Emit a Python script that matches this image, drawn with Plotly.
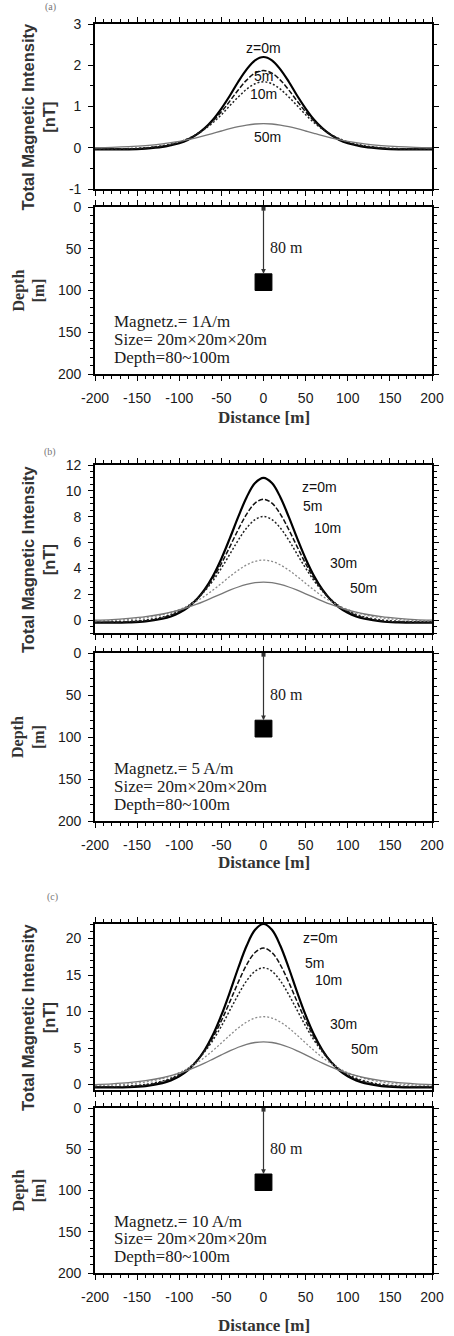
import plotly.graph_objects as go

# ---------------- data ----------------
distance = [-200, -180, -160, -140, -120, -110, -100, -90, -80, -70, -60, -50, -40, -30, -20, -10,
            0, 10, 20, 30, 40, 50, 60, 70, 80, 90, 100, 110, 120, 140, 160, 180, 200]

a_z0 = [-0.04,-0.04,-0.04,-0.02,0.02,0.06,0.11,0.19,0.31,0.47,0.68,0.95,1.26,1.60,1.90,2.12,2.20,2.12,1.90,1.60,1.26,0.95,0.68,0.47,0.31,0.19,0.11,0.06,0.02,-0.02,-0.04,-0.04,-0.04]
a_z5 = [-0.03,-0.03,-0.03,-0.01,0.035,0.07,0.13,0.21,0.32,0.46,0.65,0.87,1.13,1.40,1.64,1.81,1.87,1.81,1.64,1.40,1.13,0.87,0.65,0.46,0.32,0.21,0.13,0.07,0.035,-0.01,-0.03,-0.03,-0.03]
a_z10 = [-0.03,-0.03,-0.02,0.00,0.05,0.09,0.14,0.22,0.32,0.45,0.61,0.80,1.02,1.23,1.42,1.55,1.60,1.55,1.42,1.23,1.02,0.80,0.61,0.45,0.32,0.22,0.14,0.09,0.05,0.00,-0.02,-0.03,-0.03]
a_z50 = [0.00,0.009,0.025,0.052,0.093,0.122,0.155,0.195,0.241,0.293,0.349,0.406,0.461,0.511,0.551,0.576,0.585,0.576,0.551,0.511,0.461,0.406,0.349,0.293,0.241,0.195,0.155,0.122,0.093,0.052,0.025,0.009,0.00]

b_z0 = [-0.19,-0.20,-0.18,-0.11,0.10,0.28,0.56,0.97,1.55,2.35,3.41,4.75,6.32,7.98,9.51,10.60,11.0,10.60,9.51,7.98,6.32,4.75,3.41,2.35,1.55,0.97,0.56,0.28,0.10,-0.11,-0.18,-0.20,-0.19]
b_z5 = [-0.17,-0.17,-0.14,-0.05,0.17,0.37,0.65,1.04,1.58,2.30,3.23,4.37,5.67,7.00,8.20,9.05,9.35,9.05,8.20,7.00,5.67,4.37,3.23,2.30,1.58,1.04,0.65,0.37,0.17,-0.05,-0.14,-0.17,-0.17]
b_z10 = [-0.14,-0.13,-0.09,0.01,0.24,0.44,0.71,1.08,1.58,2.23,3.05,4.02,5.09,6.18,7.13,7.78,8.02,7.78,7.13,6.18,5.09,4.02,3.05,2.23,1.58,1.08,0.71,0.44,0.24,0.01,-0.09,-0.13,-0.14]
b_z30 = [-0.07,-0.03,0.04,0.17,0.41,0.59,0.81,1.09,1.44,1.85,2.32,2.84,3.37,3.86,4.27,4.54,4.64,4.54,4.27,3.86,3.37,2.84,2.32,1.85,1.44,1.09,0.81,0.59,0.41,0.17,0.04,-0.03,-0.07]
b_z50 = [0.00,0.04,0.13,0.26,0.47,0.61,0.78,0.98,1.21,1.47,1.75,2.03,2.31,2.56,2.76,2.89,2.93,2.89,2.76,2.56,2.31,2.03,1.75,1.47,1.21,0.98,0.78,0.61,0.47,0.26,0.13,0.04,0.00]

c_z0 = [-0.38,-0.39,-0.36,-0.21,0.19,0.57,1.13,1.94,3.10,4.70,6.82,9.50,12.63,15.97,19.02,21.20,22.0,21.20,19.02,15.97,12.63,9.50,6.82,4.70,3.10,1.94,1.13,0.57,0.19,-0.21,-0.36,-0.39,-0.38]
c_z5 = [-0.33,-0.33,-0.27,-0.09,0.35,0.73,1.29,2.08,3.16,4.61,6.47,8.74,11.33,14.01,16.41,18.09,18.7,18.09,16.41,14.01,11.33,8.74,6.47,4.61,3.16,2.08,1.29,0.73,0.35,-0.09,-0.27,-0.33,-0.33]
c_z10 = [-0.29,-0.27,-0.19,0.02,0.48,0.87,1.41,2.16,3.16,4.46,6.08,8.01,10.16,12.32,14.22,15.53,16.0,15.53,14.22,12.32,10.16,8.01,6.08,4.46,3.16,2.16,1.41,0.87,0.48,0.02,-0.19,-0.27,-0.29]
c_z30 = [-0.13,-0.06,0.08,0.35,0.82,1.17,1.62,2.19,2.88,3.71,4.66,5.69,6.75,7.74,8.56,9.11,9.3,9.11,8.56,7.74,6.75,5.69,4.66,3.71,2.88,2.19,1.62,1.17,0.82,0.35,0.08,-0.06,-0.13]
c_z50 = [-0.01,0.09,0.25,0.52,0.93,1.22,1.55,1.95,2.41,2.93,3.49,4.06,4.61,5.11,5.51,5.76,5.85,5.76,5.51,5.11,4.61,4.06,3.49,2.93,2.41,1.95,1.55,1.22,0.93,0.52,0.25,0.09,-0.01]

curve_labels = ["z=0m", "5m", "10m", "30m", "50m"]

# label positions (distance, value) per panel
a_label_x = [0, 0, 0, 5]
a_label_y = [2.42, 1.74, 1.30, 0.26]
a_label_names = ["z=0m", "5m", "10m", "50m"]
b_label_x = [43, 45, 57, 77, 100]
b_label_y = [10.3, 8.8, 7.1, 4.4, 2.45]
c_label_x = [45, 47, 59, 77, 102]
c_label_y = [20.05, 16.7, 14.3, 8.36, 4.82]

# tick values / labels
x_tickvals = [-200, -150, -100, -50, 0, 50, 100, 150, 200]
x_ticktext = ["-200", "-150", "-100", "-50", "0", "50", "100", "150", "200"]
a_tickvals = [-1, 0, 1, 2, 3]
a_ticktext = ["-1", "0", "1", "2", "3"]
b_tickvals = [0, 2, 4, 6, 8, 10, 12]
b_ticktext = ["0", "2", "4", "6", "8", "10", "12"]
c_tickvals = [0, 5, 10, 15, 20]
c_ticktext = ["0", "5", "10", "15", "20"]
depth_tickvals = [0, 50, 100, 150, 200]
depth_ticktext = ["0", "50", "100", "150", "200"]

magnetization_text = ["Magnetz.= 1A/m", "Magnetz.= 5 A/m", "Magnetz.= 10 A/m"]
size_text = "Size= 20m\u00d720m\u00d720m"
depth_text = "Depth=80~100m"
panel_tags = ["(a)", "(b)", "(c)"]

body_x = [-10, 10]
body_depth = [80, 100]
sensor_x = 0
sensor_depth = 2
distance_label = "80 m"

top_ranges = [[-1, 3], [-1, 12], [-0.75, 22]]
top_minor = [0.5, 0.5, 1]

# ---------------- layout geometry (pixels) ----------------
W, H = 454, 1336
X0, X1 = 95, 432
top_px = [(24, 189), (465, 633), (924, 1090)]
bot_px = [(207, 374), (653, 821), (1108, 1273)]
dist_px = [417, 862, 1325]
tag_px = [(50, 7), (50, 452), (52, 897)]

def dom(t, b):
    return [1 - b / H, 1 - t / H]

styles = {
    "z=0m": dict(color="black", width=2.2, dash="solid"),
    "5m": dict(color="#111111", width=1.5, dash="5px,2px"),
    "10m": dict(color="#222222", width=1.5, dash="2px,2px"),
    "30m": dict(color="#8a8a8a", width=1.3, dash="2px,2px"),
    "50m": dict(color="#777777", width=1.3, dash="solid"),
}

panels = [
    {"curves": [("z=0m", a_z0), ("5m", a_z5), ("10m", a_z10), ("50m", a_z50)],
     "lx": a_label_x, "ly": a_label_y, "ln": a_label_names, "tv": a_tickvals, "tt": a_ticktext},
    {"curves": [("z=0m", b_z0), ("5m", b_z5), ("10m", b_z10), ("30m", b_z30), ("50m", b_z50)],
     "lx": b_label_x, "ly": b_label_y, "ln": curve_labels, "tv": b_tickvals, "tt": b_ticktext},
    {"curves": [("z=0m", c_z0), ("5m", c_z5), ("10m", c_z10), ("30m", c_z30), ("50m", c_z50)],
     "lx": c_label_x, "ly": c_label_y, "ln": curve_labels, "tv": c_tickvals, "tt": c_ticktext},
]

fig = go.Figure()
layout = dict(width=W, height=H, margin=dict(l=0, r=0, t=0, b=0, autoexpand=False),
              paper_bgcolor="white", plot_bgcolor="white", showlegend=False)
annotations = []
shapes = []

tickfont = dict(family="Liberation Sans, Arial", size=14, color="#1a1a1a")
serif = "Liberation Serif, Times New Roman"
sans = "Liberation Sans, Arial"

def axis_common():
    return dict(showline=True, linecolor="black", linewidth=1.6, mirror="ticks",
                ticks="outside", ticklen=5, tickwidth=1.2, tickcolor="black",
                showgrid=False, zeroline=False, tickfont=tickfont, automargin=False,
                tickmode="array", fixedrange=True)

for i, p in enumerate(panels):
    ta = 2 * i + 1
    ba = 2 * i + 2
    xt, yt = f"x{ta}", f"y{ta}"
    xb, yb = f"x{ba}", f"y{ba}"
    for name, vals in p["curves"]:
        fig.add_trace(go.Scatter(x=distance, y=vals, mode="lines", xaxis=xt, yaxis=yt,
                                 line=dict(shape="spline", smoothing=1.0, **styles[name]),
                                 hoverinfo="skip"))
    fig.add_trace(go.Scatter(x=[sensor_x], y=[sensor_depth], mode="markers", xaxis=xb, yaxis=yb,
                             marker=dict(symbol="square", size=4, color="#333333"), hoverinfo="skip"))

    sfx_t = "" if ta == 1 else str(ta)
    sfx_b = str(ba)
    minor_x = dict(ticks="outside", dtick=10, tick0=0, ticklen=3, tickcolor="black", tickwidth=1)
    ax_t = axis_common()
    ax_t.update(domain=[X0 / W, X1 / W], range=[-200, 200], tickvals=x_tickvals,
                ticktext=x_ticktext, showticklabels=False, anchor=yt, minor=minor_x)
    ay_t = axis_common()
    ay_t.update(domain=dom(*top_px[i]), range=top_ranges[i], tickvals=p["tv"], ticktext=p["tt"],
                anchor=xt, ticklabelstandoff=4,
                minor=dict(ticks="outside", dtick=top_minor[i], tick0=0, ticklen=3,
                           tickcolor="black", tickwidth=1))
    ax_b = axis_common()
    ax_b.update(domain=[X0 / W, X1 / W], range=[-200, 200], tickvals=x_tickvals,
                ticktext=x_ticktext, showticklabels=True, anchor=yb, minor=minor_x,
                ticklabelstandoff=5)
    ay_b = axis_common()
    ay_b.update(domain=dom(*bot_px[i]), range=[200, 0], tickvals=depth_tickvals,
                ticktext=depth_ticktext, anchor=xb, ticklabelstandoff=4,
                minor=dict(ticks="outside", dtick=10, tick0=0, ticklen=3, tickcolor="black", tickwidth=1))
    layout["xaxis" + sfx_t] = ax_t
    layout["yaxis" + sfx_t] = ay_t
    layout["xaxis" + sfx_b] = ax_b
    layout["yaxis" + sfx_b] = ay_b

    for lx, ly, ln in zip(p["lx"], p["ly"], p["ln"]):
        annotations.append(dict(x=lx, y=ly, xref=xt, yref=yt, text=ln, showarrow=False,
                                xanchor="center" if i == 0 else "left", yanchor="middle",
                                font=dict(family=sans, size=14, color="#111111")))

    shapes.append(dict(type="rect", xref=xb, yref=yb, x0=body_x[0], x1=body_x[1],
                       y0=body_depth[0], y1=body_depth[1], fillcolor="black",
                       line=dict(color="black", width=1)))
    annotations.append(dict(x=sensor_x, y=body_depth[0], ax=sensor_x, ay=sensor_depth,
                            xref=xb, yref=yb, axref=xb, ayref=yb, text="", showarrow=True,
                            arrowhead=2, arrowsize=0.8, arrowwidth=1.2, arrowcolor="#333333"))
    annotations.append(dict(x=5, y=49, xref=xb, yref=yb, text=distance_label, showarrow=False,
                            xanchor="left", yanchor="middle",
                            font=dict(family=serif, size=16, color="#1a1a1a")))
    for k, txt in enumerate([magnetization_text[i], size_text, depth_text]):
        annotations.append(dict(x=-180, y=137 + k * 21.5, xref=xb, yref=yb, text=txt, showarrow=False,
                                xanchor="left", yanchor="middle",
                                font=dict(family=serif, size=17, color="#1a1a1a")))

    tcy = (top_px[i][0] + top_px[i][1]) / 2 + 10
    annotations.append(dict(x=38 / W, y=1 - tcy / H, xref="paper", yref="paper",
                            text="<b>Total Magnetic Intensity</b><br><b>[nT]</b>", textangle=-90,
                            showarrow=False, xanchor="center", yanchor="middle",
                            font=dict(family=sans, size=16.5, color="#333333")))
    bcy = (bot_px[i][0] + bot_px[i][1]) / 2
    annotations.append(dict(x=28 / W, y=1 - bcy / H, xref="paper", yref="paper",
                            text="<b>Depth</b><br><b>[m]</b>", textangle=-90,
                            showarrow=False, xanchor="center", yanchor="middle",
                            font=dict(family=serif, size=16, color="#333333")))
    annotations.append(dict(x=(X0 + X1) / 2 / W, y=1 - dist_px[i] / H, xref="paper", yref="paper",
                            text="<b>Distance [m]</b>", showarrow=False,
                            xanchor="center", yanchor="middle",
                            font=dict(family=serif, size=17, color="#333333")))
    annotations.append(dict(x=tag_px[i][0] / W, y=1 - tag_px[i][1] / H, xref="paper", yref="paper",
                            text=panel_tags[i], showarrow=False, xanchor="center", yanchor="middle",
                            font=dict(family=serif, size=10, color="#777777")))

layout["annotations"] = annotations
layout["shapes"] = shapes
fig.update_layout(**layout)
fig.write_html("out.html", config={"displayModeBar": False},
               post_script="document.body.style.margin='0px';")
